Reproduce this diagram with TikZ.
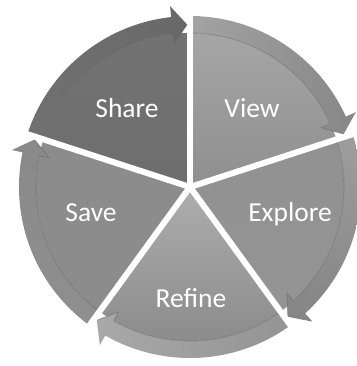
\documentclass[tikz,border=0pt]{standalone}
\usepackage{fontspec}
\setmainfont{Carlito}
\begin{document}
\begin{tikzpicture}[x=1pt,y=1pt,
  lbl/.style={text=white,font=\fontsize{27.5}{32}\selectfont,anchor=base,inner sep=0pt},
  gapline/.style={draw=white,line width=6pt},
  innerline/.style={draw=black!60,draw opacity=0.5,line width=0.8pt},
]
\useasboundingbox (0,0) rectangle (356,366);
\newcommand\segshape[4]{%
  \path[#3] (0,0) -- (#1:154pt) arc[start angle=#1, end angle=#2, radius=154pt] -- cycle;
  \path[#4] (#2:171pt) arc[start angle=#2, end angle={#1+6.3}, radius=171pt]
    -- ({#1+6.3}:182pt) -- ({#1+1}:162.5pt) -- ({#1+6.3}:144pt) -- ({#1+6.3}:154pt)
    arc[start angle={#1+6.3}, end angle=#2, radius=154pt] -- cycle;
  \draw[innerline] (#2:154pt) arc[start angle=#2, end angle={#1+6.3}, radius=154pt]
    -- ({#1+6.3}:144pt) -- ({#1+1}:162.5pt);
}
\begin{scope}[shift={(190,179)}]
  \coordinate (O) at (0,0);
  % Share
  \segshape{90}{162}{top color=black!55,bottom color=black!57}{left color=black!56,right color=black!59}
  % View
  \segshape{18}{90}{top color=black!35,bottom color=black!44}{left color=black!36,right color=black!47}
  % Explore
  \segshape{-54}{18}{top color=black!43,bottom color=black!42}{top color=black!38,bottom color=black!48}
  % Refine
  \segshape{-126}{-54}{top color=black!32,bottom color=black!46}{left color=black!34,right color=black!42}
  % Save
  \segshape{162}{234}{top color=black!45,bottom color=black!45}{top color=black!46,bottom color=black!44}
  % gaps
  \coordinate (g1) at (90:200pt);
  \coordinate (g2) at (18:200pt);
  \coordinate (g3) at (-54:200pt);
  \coordinate (g4) at (-126:200pt);
  \coordinate (g5) at (162:200pt);
  \foreach \g in {g1,g2,g3,g4,g5} \draw[gapline] (O) -- (\g);
\end{scope}
\node[lbl] (share) at (127,248) {Share};
\node[lbl] (view) at (252,248) {View};
\node[lbl] (explore) at (290,144) {Explore};
\node[lbl] (save) at (91,144) {Save};
\node[lbl] (refine) at (191,58) {Refine};
\end{tikzpicture}
\end{document}
